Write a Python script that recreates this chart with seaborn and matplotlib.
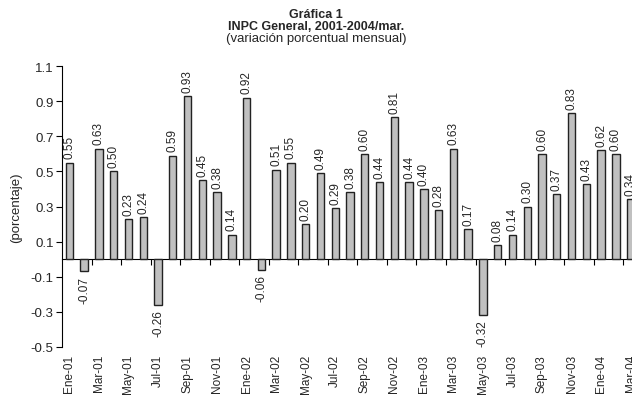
import numpy as np
import matplotlib
matplotlib.use('Agg')
import matplotlib.pyplot as plt
import seaborn as sns

# monthly INPC change, Jan 2001 - Mar 2004
months = ['Ene', 'Feb', 'Mar', 'Abr', 'May', 'Jun',
          'Jul', 'Ago', 'Sep', 'Oct', 'Nov', 'Dic']
labels = [f'{m}-{y:02d}' for y in (1, 2, 3) for m in months] + ['Ene-04', 'Feb-04', 'Mar-04']
values = [0.55, -0.07, 0.63, 0.50, 0.23, 0.24, -0.26, 0.59, 0.93, 0.45, 0.38, 0.14,
          0.92, -0.06, 0.51, 0.55, 0.20, 0.49, 0.29, 0.38, 0.60, 0.44, 0.81, 0.44,
          0.40, 0.28, 0.63, 0.17, -0.32, 0.08, 0.14, 0.30, 0.60, 0.37, 0.83, 0.43,
          0.62, 0.60, 0.34]
yticks = [1.1, 0.9, 0.7, 0.5, 0.3, 0.1, -0.1, -0.3, -0.5]

sns.set_style('white')
plt.rcParams['font.family'] = ['Liberation Sans', 'DejaVu Sans']
plt.rcParams['axes.unicode_minus'] = False

fig = plt.figure(figsize=(6.32, 4.02), dpi=100)
ax = fig.add_axes([62 / 632, 54 / 402, 576 / 632, 281 / 402])

sns.barplot(x=labels, y=values, color='#c0c0c0', saturation=1, width=0.5,
            edgecolor='#222222', linewidth=1.0, ax=ax)

ax.set_ylim(-0.5, 1.1)
ax.set_xlim(-0.5, len(values) - 0.5)
ax.set_yticks(yticks)
ax.set_yticklabels([f'{t:.1f}' for t in yticks], fontsize=9.5)
ax.set_ylabel('(porcentaje)', fontsize=9.5, labelpad=6)

# month labels every other bar, at the bottom
ax.set_xticks(range(0, len(values), 2))
ax.set_xticklabels(labels[::2], rotation=90, fontsize=8.5)
ax.tick_params(axis='x', length=0, pad=5)
ax.tick_params(axis='y', direction='out', length=4, width=0.8, color='black', pad=2, left=True)

for s in ['top', 'right', 'bottom']:
    ax.spines[s].set_visible(False)
ax.spines['left'].set_color('black')
ax.spines['left'].set_linewidth(0.8)

# zero line with tick marks between categories
zero = ax.secondary_xaxis(0.5 / 1.6)
zero.set_xticks(np.arange(1.5, len(values), 2))
zero.set_xticklabels([])
zero.tick_params(direction='out', length=4, width=0.8, color='black')
zero.spines['bottom'].set_color('black')
zero.spines['bottom'].set_linewidth(0.8)

for i, v in enumerate(values):
    ax.annotate(f'{v:.2f}', (i, v), xytext=(0, 3 if v >= 0 else -3),
                textcoords='offset points', rotation=90, ha='center',
                va='bottom' if v >= 0 else 'top', fontsize=8.5)

fig.text(0.5, 1 - 15 / 402, 'Gráfica 1', ha='center', va='center', fontsize=9, fontweight='bold')
fig.text(0.5, 1 - 27 / 402, 'INPC General, 2001-2004/mar.', ha='center', va='center',
         fontsize=9, fontweight='bold')
fig.text(0.5, 1 - 39 / 402, '(variación porcentual mensual)', ha='center', va='center', fontsize=9.5)

fig.savefig('out.png', dpi=100)
